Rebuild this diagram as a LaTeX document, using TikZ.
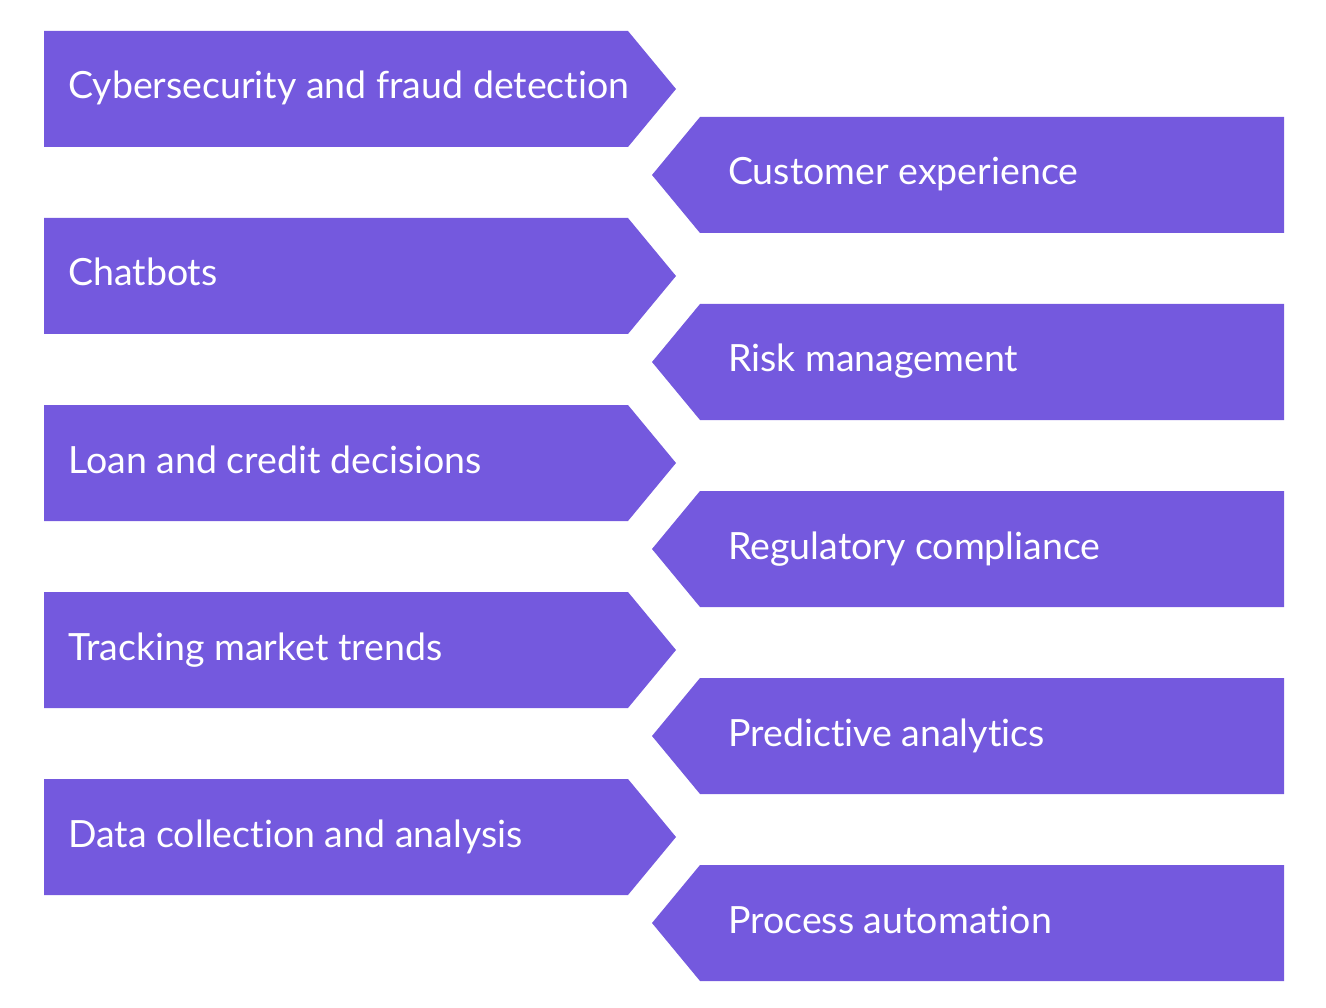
\documentclass[tikz,border=0pt]{standalone}
\usepackage{fontspec}
\setmainfont{Lato}[Ligatures=NoCommon]
\definecolor{vio}{HTML}{7459DE}
\begin{document}
\begin{tikzpicture}[x=1pt,y=-1pt,
  lbl/.style={anchor=base west,text=white,font=\fontsize{37.5}{40}\selectfont,inner sep=0pt}]
\useasboundingbox (0,0) rectangle (1326,1008);
\foreach \i/\t in {0/Cybersecurity and fraud detection,1/Chatbots,2/Loan and credit decisions,3/Tracking market trends,4/Data collection and analysis}{
  \pgfmathsetmacro{\yt}{31+187*\i}
  \fill[vio] (44,\yt) -- (628,\yt) -- (676,\yt+58) -- (628,\yt+116) -- (44,\yt+116) -- cycle;
  \node[lbl] (l\i) at (68,\yt+68) {\t};
}
\foreach \i/\t in {0/Customer experience,1/Risk management,2/Regulatory compliance,3/Predictive analytics,4/Process automation}{
  \pgfmathsetmacro{\yt}{117+187*\i}
  \fill[vio] (700,\yt) -- (1284,\yt) -- (1284,\yt+116) -- (700,\yt+116) -- (652,\yt+58) -- cycle;
  \node[lbl] (r\i) at (728,\yt+68) {\t};
}
\end{tikzpicture}
\end{document}
